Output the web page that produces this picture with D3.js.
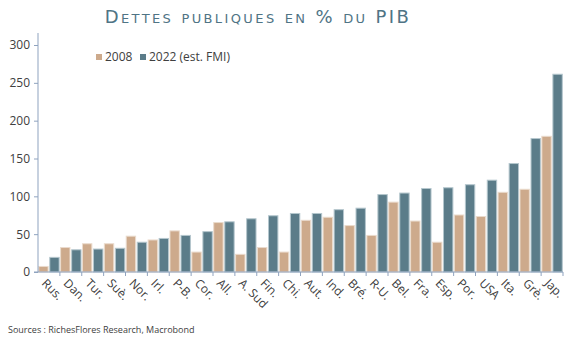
<!DOCTYPE html>
<html>
<head>
<meta charset="utf-8">
<script src="https://cdn.jsdelivr.net/npm/d3@7"></script>
<style>
  body { margin: 0; background: #fff; }
  svg { display: block; }
  .axis text { font-family: "Open Sans", sans-serif; font-size: 12px; fill: #404040; }
</style>
</head>
<body>
<div id="chart"></div>
<script>
const countries = ["Rus.", "Dan.", "Tur.", "Suè.", "Nor.", "Irl.", "P-B.", "Cor.", "All.", "A. Sud",
  "Fin.", "Chi.", "Aut.", "Ind.", "Bré.", "R-U.", "Bel.", "Fra.", "Esp.", "Por.", "USA", "Ita.", "Grè.", "Jap."];
const debt2008 = [8, 33, 38, 38, 48, 43, 55, 27, 66, 24, 33, 27, 69, 73, 62, 49, 93, 68, 40, 76, 74, 106, 110, 180];
const debt2022 = [20, 30, 31, 32, 40, 45, 49, 54, 67, 71, 75, 78, 78, 83, 85, 103, 105, 111, 112, 116, 122, 144, 177, 262];
const seriesNames = ["2008", "2022 (est. FMI)"];
const yTicks = [0, 50, 100, 150, 200, 250, 300];

const width = 580, height = 349;
const margin = { top: 45, left: 38, right: 17, bottom: 77 };
const colors = ["#CDAA8C", "#5B7C89"];
const strokes = ["#EADBCD", "#B4C6CD"];

const svg = d3.select("#chart").append("svg")
  .attr("width", width)
  .attr("height", height);

const x = d3.scaleBand()
  .domain(countries)
  .range([margin.left, width - margin.right])
  .padding(0);

const xs = d3.scaleBand()
  .domain([0, 1])
  .range([0, x.bandwidth()])
  .paddingInner(0.06)
  .paddingOuter(0.02);

const y = d3.scaleLinear()
  .domain([0, 300])
  .range([height - margin.bottom, margin.top]);

// title
svg.append("text")
  .attr("x", 258)
  .attr("y", 23)
  .attr("text-anchor", "middle")
  .style("font-family", "'DejaVu Sans', sans-serif")
  .style("font-variant", "small-caps")
  .style("font-size", "18px")
  .style("letter-spacing", "2.4px")
  .style("fill", "#4F7485")
  .text("Dettes publiques en % du PIB");

// bars
const data = countries.map((c, i) => ({ c, v: [debt2008[i], debt2022[i]] }));
const groups = svg.selectAll("g.cat")
  .data(data)
  .enter()
  .append("g")
  .attr("class", "cat")
  .attr("transform", (d) => `translate(${x(d.c)},0)`);

groups.selectAll("rect")
  .data((d) => d.v.map((v, k) => ({ v, k })))
  .enter()
  .append("rect")
  .attr("x", (d) => xs(d.k) + 0.5)
  .attr("width", xs.bandwidth() - 1)
  .attr("y", (d) => y(d.v) + 0.5)
  .attr("height", (d) => y(0) - y(d.v) - 0.5)
  .attr("fill", (d) => colors[d.k])
  .attr("stroke", (d) => strokes[d.k])
  .attr("stroke-width", 1);

// y axis
const yAxis = svg.append("g")
  .attr("class", "axis")
  .attr("transform", `translate(${margin.left},0)`)
  .call(d3.axisLeft(y).tickValues(yTicks).tickSize(4).tickPadding(4));
yAxis.select(".domain").attr("stroke", "#8FA3BF").attr("d", `M-4,${y(0)}H0V${margin.top - 12}`);
yAxis.selectAll(".tick line").attr("stroke", "#8FA3BF");

// x axis
const xAxis = svg.append("g")
  .attr("class", "axis")
  .attr("transform", `translate(0,${y(0)})`);
xAxis.append("line")
  .attr("x1", margin.left)
  .attr("x2", width - margin.right)
  .attr("stroke", "#8FA3BF")
  .attr("stroke-width", 1.2);
xAxis.selectAll("line.tk")
  .data(countries)
  .enter()
  .append("line")
  .attr("class", "tk")
  .attr("x1", (d) => x(d) + x.bandwidth())
  .attr("x2", (d) => x(d) + x.bandwidth())
  .attr("y1", 0)
  .attr("y2", 4)
  .attr("stroke", "#8FA3BF");
xAxis.selectAll("text")
  .data(countries)
  .enter()
  .append("text")
  .attr("transform", (d) => `translate(${x(d) + x.bandwidth() / 2 - 5},${9}) rotate(45)`)
  .attr("text-anchor", "start")
  .attr("dy", "0.35em")
  .text((d) => d);

// legend
const legend = svg.append("g").attr("transform", "translate(96,57)");
const lx = [0, 44];
seriesNames.forEach((s, i) => {
  legend.append("rect")
    .attr("x", lx[i])
    .attr("y", -3)
    .attr("width", 6)
    .attr("height", 6)
    .attr("fill", colors[i]);
  legend.append("text")
    .attr("x", lx[i] + 9)
    .attr("y", 0)
    .attr("dy", "0.35em")
    .style("font-family", "'Open Sans', sans-serif")
    .style("font-size", "12px")
    .style("fill", "#404040")
    .text(s);
});

// source
svg.append("text")
  .attr("x", 8)
  .attr("y", 333)
  .style("font-family", "'Open Sans', sans-serif")
  .style("font-size", "9px")
  .style("fill", "#404040")
  .text("Sources : RichesFlores Research, Macrobond");
</script>
</body>
</html>
